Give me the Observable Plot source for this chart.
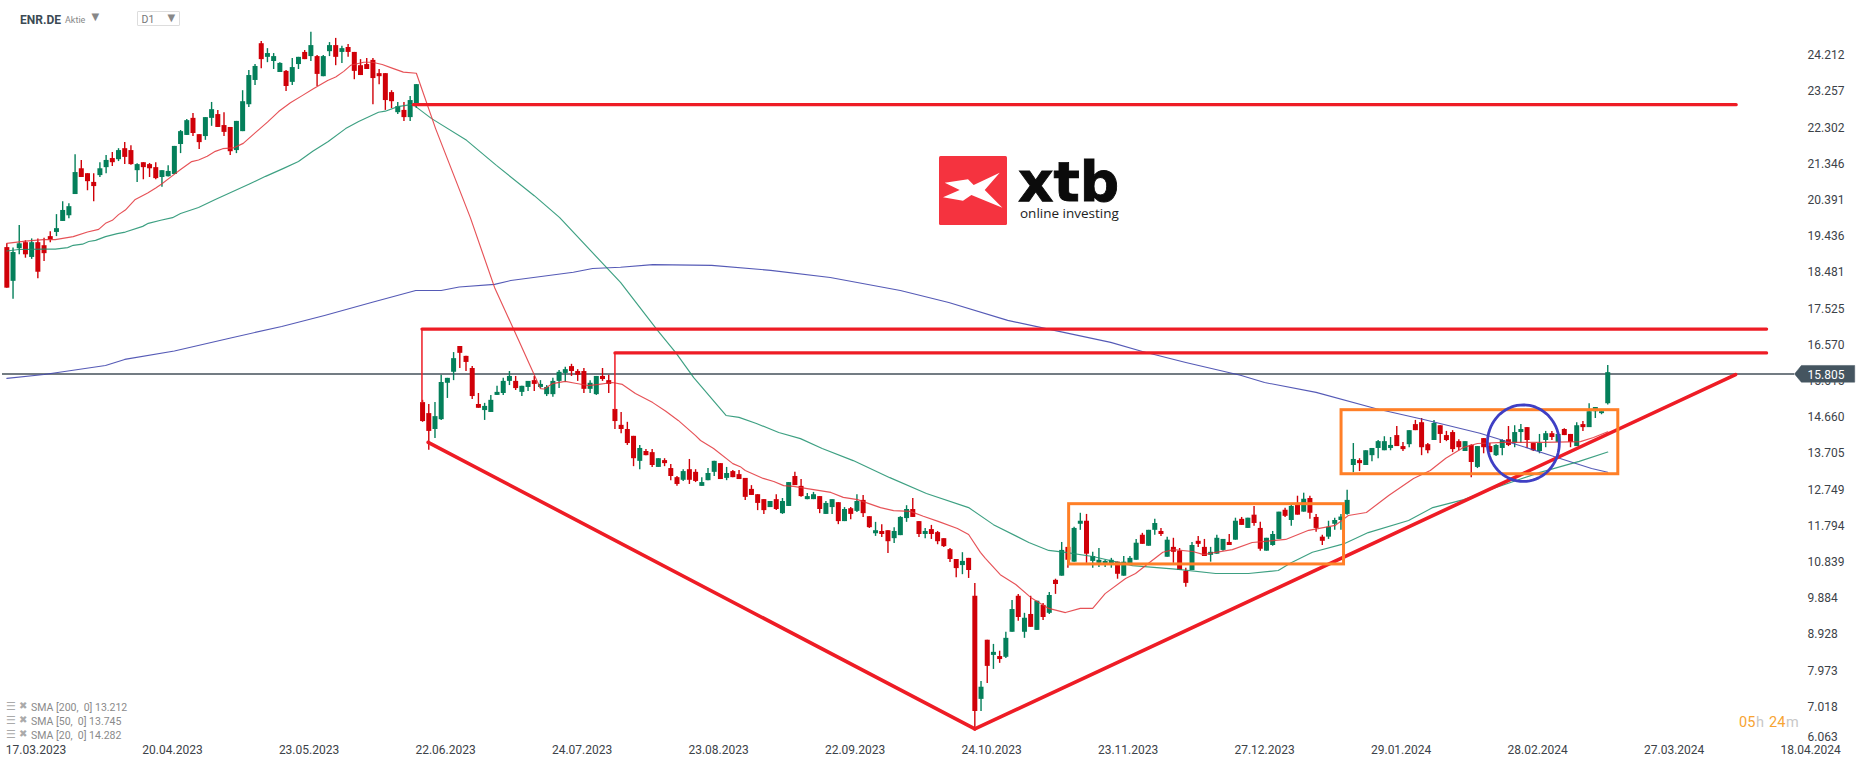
<!DOCTYPE html>
<html><head><meta charset="utf-8">
<script src="https://cdn.jsdelivr.net/npm/d3@7"></script>
<script src="https://cdn.jsdelivr.net/npm/@observablehq/plot@0.6"></script>
<style>
html,body{margin:0;padding:0;background:#fff;overflow:hidden}
#wrap{position:relative;width:1866px;height:767px;font-family:Roboto,sans-serif}
#wrap svg{display:block}
.o{position:absolute;white-space:pre;transform:translateY(-50%);line-height:1}
</style></head><body><div id="wrap"></div>
<script>
// daily bars: [open, high, low, close]
const ohlc=[
[19.14,19.24,18.07,18.07],[18.25,19.13,17.78,19.01],[19.11,19.72,18.95,19.24],[19.27,19.32,18.86,18.95],[18.88,19.37,18.83,19.27],[19.27,19.37,18.32,18.49],[19.19,19.39,18.77,18.98],[19.43,19.56,19.27,19.34],[19.54,20.01,19.43,19.64],[19.83,20.35,19.83,20.12],
[19.98,20.30,19.90,20.22],[20.54,21.59,20.54,21.12],[21.22,21.44,20.99,20.99],[21.09,21.09,20.64,20.88],[20.86,21.09,20.35,20.75],[21.04,21.38,20.99,21.22],[21.25,21.57,21.09,21.44],[21.49,21.65,21.28,21.38],[21.46,21.75,21.41,21.70],[21.75,21.91,21.33,21.52],
[21.70,21.83,21.31,21.33],[21.17,21.35,20.86,21.33],[21.38,21.38,20.93,21.25],[21.33,21.36,20.99,21.22],[21.25,21.38,20.93,20.96],[20.99,21.17,20.73,21.17],[21.01,21.30,21.00,21.15],[21.07,21.81,21.07,21.81],[21.86,22.23,21.62,22.20],[22.10,22.52,22.10,22.49],
[22.55,22.68,22.07,22.15],[22.12,22.12,21.73,21.91],[22.07,22.57,21.97,22.57],[22.55,22.97,22.34,22.78],[22.65,22.76,22.31,22.31],[22.36,22.70,22.07,22.18],[22.31,22.31,21.57,21.67],[21.70,22.47,21.62,22.47],[22.20,23.28,22.20,22.99],[22.91,23.81,22.84,23.68],
[23.55,23.97,23.42,23.92],[24.52,24.58,23.86,24.10],[24.16,24.39,24.02,24.26],[24.05,24.26,23.84,24.18],[23.76,24.02,23.76,24.00],[23.79,23.81,23.26,23.39],[23.50,24.13,23.42,23.89],[23.97,24.16,23.84,24.16],[24.29,24.34,24.10,24.10],[24.18,24.82,24.05,24.47],
[24.18,24.21,23.39,23.71],[23.65,24.21,23.65,24.18],[24.31,24.55,24.18,24.47],[24.47,24.66,23.94,24.16],[24.29,24.45,24.00,24.39],[24.42,24.50,24.16,24.29],[24.29,24.29,23.57,23.79],[23.94,24.10,23.68,23.68],[23.97,24.13,23.84,23.84],[24.08,24.13,22.91,23.60],
[23.73,23.84,23.44,23.65],[23.73,23.73,22.76,23.02],[23.23,23.28,22.81,22.99],[22.70,22.97,22.65,22.86],[22.76,22.97,22.47,22.57],[22.57,23.13,22.47,23.02],[22.89,23.44,22.81,23.44],[15.05,15.11,14.53,14.55],[14.76,15.00,13.79,14.29],[14.34,15.05,14.10,14.68],
[14.60,15.77,14.58,15.58],[15.56,15.69,15.16,15.69],[15.85,16.37,15.63,16.21],[16.53,16.53,15.95,16.35],[16.27,16.27,15.87,16.11],[15.95,16.00,15.13,15.21],[15.00,15.29,14.90,14.90],[14.84,15.03,14.58,14.95],[14.79,15.24,14.79,15.11],[15.24,15.48,15.24,15.32],
[15.29,15.69,15.24,15.61],[15.61,15.87,15.50,15.74],[15.61,15.74,15.37,15.42],[15.32,15.48,15.21,15.48],[15.45,15.61,15.34,15.61],[15.63,15.74,15.34,15.53],[15.45,15.63,15.42,15.53],[15.26,15.50,15.21,15.45],[15.26,15.69,15.19,15.61],[15.61,15.90,15.42,15.85],
[15.82,15.98,15.58,15.92],[16.00,16.06,15.74,15.87],[15.87,15.92,15.61,15.77],[15.87,15.95,15.29,15.40],[15.40,15.63,15.29,15.56],[15.26,15.74,15.24,15.74],[15.74,15.95,15.61,15.66],[15.63,15.77,15.29,15.53],[14.87,14.87,14.34,14.55],[14.45,14.79,14.23,14.34],
[14.34,14.53,13.92,13.97],[14.16,14.16,13.36,13.57],[13.50,13.92,13.28,13.84],[13.76,13.81,13.65,13.65],[13.73,13.81,13.34,13.39],[13.34,13.57,13.34,13.57],[13.52,13.57,13.36,13.44],[13.31,13.42,12.99,13.10],[13.07,13.10,12.84,12.89],[13.00,13.28,12.97,13.23],
[13.28,13.55,12.89,13.00],[13.21,13.28,12.94,12.97],[12.84,13.07,12.84,12.94],[12.99,13.31,12.99,13.18],[13.21,13.50,13.10,13.50],[13.44,13.44,13.02,13.02],[13.05,13.34,12.99,13.18],[13.23,13.26,13.07,13.07],[13.15,13.26,13.02,13.02],[13.05,13.05,12.47,12.55],
[12.76,12.86,12.60,12.60],[12.62,12.62,12.20,12.39],[12.49,12.49,12.10,12.20],[12.28,12.44,12.28,12.44],[12.49,12.62,12.20,12.23],[12.12,12.52,12.10,12.44],[12.31,12.94,12.31,12.94],[13.10,13.21,12.86,12.86],[12.84,13.02,12.55,12.57],[12.49,12.65,12.49,12.57],
[12.49,12.68,12.49,12.62],[12.57,12.57,12.12,12.23],[12.10,12.44,12.10,12.39],[12.28,12.49,12.10,12.49],[12.41,12.41,11.83,11.91],[11.91,12.28,11.91,12.23],[12.25,12.28,11.96,12.10],[12.18,12.62,12.15,12.44],[12.47,12.60,12.02,12.12],[12.04,12.04,11.73,11.75],
[11.59,11.89,11.52,11.67],[11.65,11.83,11.49,11.57],[11.67,11.67,11.07,11.38],[11.46,11.75,11.33,11.65],[11.54,12.04,11.54,12.02],[11.99,12.33,11.89,12.23],[12.23,12.52,12.02,12.02],[11.91,11.91,11.49,11.57],[11.57,11.73,11.46,11.65],[11.70,11.81,11.44,11.57],
[11.62,11.65,11.30,11.38],[11.46,11.46,11.23,11.25],[11.17,11.20,10.83,10.91],[10.91,10.91,10.43,10.67],[10.75,11.09,10.51,10.86],[10.94,10.94,10.41,10.62],[9.94,10.28,6.45,6.90],[7.22,7.69,6.90,7.54],[8.78,8.78,7.64,8.09],[8.38,8.67,8.01,8.46],
[8.35,8.49,8.17,8.27],[8.33,8.99,8.30,8.83],[8.99,9.83,8.99,9.59],[9.94,9.99,9.28,9.38],[8.99,9.49,8.83,9.36],[9.46,9.94,9.12,9.12],[9.04,9.81,9.04,9.81],[9.70,9.75,9.30,9.38],[9.49,10.04,9.46,9.96],[10.36,10.39,9.99,10.25],
[10.47,11.36,10.47,11.15],[11.23,11.23,10.68,10.89],[10.84,11.76,10.84,11.73],[11.84,12.13,11.68,11.92],[11.92,12.10,10.81,11.05],[10.86,11.10,10.68,10.99],[10.81,11.20,10.70,10.89],[10.78,10.89,10.70,10.86],[10.78,10.94,10.68,10.89],[10.84,10.84,10.39,10.52],
[10.47,10.99,10.47,10.84],[10.78,10.99,10.78,10.94],[10.89,11.44,10.89,11.34],[11.55,11.60,11.31,11.31],[11.26,11.68,11.26,11.68],[11.68,11.97,11.55,11.86],[11.65,11.73,11.52,11.57],[10.97,11.50,10.97,11.42],[11.23,11.47,10.81,11.10],[11.13,11.20,10.62,10.62],
[10.60,10.68,10.18,10.28],[10.62,11.36,10.62,11.28],[11.39,11.52,11.23,11.31],[11.23,11.44,10.99,10.99],[11.02,11.23,10.84,11.10],[11.05,11.55,11.05,11.47],[11.15,11.44,11.13,11.44],[11.36,11.57,11.28,11.28],[11.42,12.00,11.42,11.92],[11.97,12.02,11.81,11.81],
[11.73,12.00,11.73,12.00],[12.08,12.31,11.79,11.86],[11.73,11.89,11.13,11.18],[11.13,11.47,11.13,11.47],[11.28,11.65,11.26,11.57],[11.44,12.16,11.44,12.16],[12.21,12.26,12.02,12.05],[11.94,12.39,11.79,12.31],[12.39,12.58,12.08,12.08],[12.16,12.66,12.16,12.50],
[12.52,12.58,11.97,12.13],[12.02,12.10,11.63,11.73],[11.50,11.55,11.28,11.39],[11.50,11.92,11.44,11.76],[11.84,12.00,11.68,11.94],[11.94,12.10,11.68,12.03],[12.10,12.74,12.08,12.47],[13.39,13.97,13.20,13.55],[13.52,13.57,13.23,13.44],[13.39,13.78,13.39,13.78],
[13.65,13.84,13.49,13.84],[13.84,14.05,13.57,14.02],[13.78,14.15,13.78,14.02],[13.84,14.13,13.78,13.92],[14.18,14.42,13.89,13.89],[13.89,14.00,13.76,13.81],[13.94,14.31,13.86,14.31],[14.47,14.58,14.31,14.31],[14.52,14.63,13.65,13.86],[13.94,13.97,13.70,13.78],
[14.05,14.58,14.05,14.50],[14.44,14.44,13.97,14.21],[14.18,14.29,14.02,14.05],[14.26,14.31,13.73,13.81],[14.02,14.07,13.78,13.86],[13.76,14.02,13.76,14.02],[13.92,13.94,13.07,13.47],[13.34,13.89,13.31,13.89],[14.10,14.10,13.70,13.86],[13.89,13.97,13.73,13.73],
[13.65,13.94,13.63,13.92],[13.84,14.07,13.65,14.05],[14.07,14.42,13.89,13.92],[13.97,14.44,13.86,14.26],[14.26,14.47,13.97,14.34],[14.39,14.39,13.84,14.05],[13.97,13.97,13.76,13.78],[13.76,14.21,13.70,13.97],[14.05,14.29,13.86,14.23],[14.23,14.29,14.05,14.13],
[14.00,14.21,14.00,14.21],[14.34,14.36,14.18,14.18],[14.21,14.21,13.86,14.00],[13.89,14.52,13.89,14.44],[14.47,14.55,14.29,14.39],[14.39,15.02,14.39,14.81],[14.81,14.92,14.63,14.92],[14.76,14.81,14.73,14.81],[15.02,16.03,14.99,15.84]
];
const sma20=[[0,19.25],[3,19.31],[5.9,19.35],[7.8,19.35],[10.7,19.43],[13,19.55],[14.8,19.62],[15.9,19.78],[17,19.86],[18,20.01],[19.1,20.13],[20.7,20.41],[22.7,20.58],[24,20.71],[24.9,20.81],[26.4,21.0],[28,21.2],[29.8,21.41],[30.9,21.45],[32.3,21.55],[33.6,21.68],[34.8,21.75],[36.5,21.77],[38.1,21.89],[40.1,22.18],[42,22.45],[43.8,22.73],[45.7,22.96],[47.6,23.15],[49.4,23.33],[51.7,23.55],[53,23.64],[54.3,23.79],[55.4,23.95],[57.5,24.03],[58.9,24.03],[60.5,23.97],[62.2,23.87],[63.9,23.77],[66,23.74],[69.1,22.28],[74.7,19.93],[78.6,18.09],[82.5,16.69],[84.1,16.11],[86,15.42],[86.6,15.41],[87.9,15.55],[90,15.61],[91.6,15.56],[93.7,15.5],[95.4,15.53],[97.6,15.58],[99.2,15.53],[101.3,15.29],[104.1,15.05],[106.2,14.82],[108.2,14.58],[111,14.18],[111.8,14.05],[113.9,13.84],[117,13.44],[118.2,13.36],[119,13.26],[121.9,13.05],[123.6,12.97],[125.2,12.86],[126.8,12.84],[129,12.78],[132.8,12.68],[134.8,12.55],[137.1,12.49],[140.8,12.28],[142.9,12.2],[145.6,12.18],[147.7,12.05],[150.2,11.91],[153.2,11.73],[155,11.57],[156.9,11.1],[157.7,10.94],[160.1,10.51],[162.6,10.25],[165,9.91],[167.9,9.62],[170.6,9.51],[173,9.62],[175,9.62],[177,10.01],[180.3,10.41],[181.9,10.54],[184,10.81],[186.3,11.1],[188,11.17],[191.1,11.12],[192.9,11.04],[194.8,11.1],[197.5,11.17],[200.7,11.36],[202.8,11.39],[206.1,11.44],[209.8,11.68],[214.1,11.81],[216.2,12.07],[219.1,12.15],[222.7,12.6],[226.7,13.05],[229.4,13.26],[231.9,13.58],[234.8,13.87],[237,13.97],[241.2,14.0],[247.7,14.0],[253.6,14.02],[255.7,14.13],[258,14.28]];
const sma50=[[0,19.05],[1.9,19.09],[5.9,19.1],[7.8,19.1],[9.8,19.14],[10.7,19.2],[12.2,19.23],[13.2,19.3],[14.3,19.33],[15.9,19.43],[17.8,19.51],[19.1,19.55],[21.9,19.7],[22.8,19.78],[24.8,19.86],[26.7,19.93],[28,20.04],[30.9,20.2],[33.6,20.41],[39,20.81],[41.7,21.02],[44.6,21.23],[47,21.41],[49.3,21.68],[51.8,21.94],[54.6,22.28],[56.7,22.47],[59.9,22.71],[61,22.74],[63,22.86],[65.4,22.92],[65.9,22.86],[68.4,22.55],[74.1,21.97],[78.9,21.31],[85,20.51],[89.1,19.93],[98.9,18.22],[104.9,16.95],[107.8,16.37],[110.7,15.71],[115.9,14.71],[118,14.66],[120.8,14.5],[124.4,14.26],[127.9,14.1],[131.4,13.84],[136.4,13.52],[142.3,13.07],[148.2,12.65],[155,12.28],[159,11.83],[164.7,11.36],[167.9,11.15],[170.6,11.1],[175,10.99],[181.4,10.75],[188.8,10.65],[194.8,10.54],[200.1,10.54],[204.9,10.62],[206.9,10.82],[210.4,11.1],[215.6,11.33],[219.4,11.62],[225.9,11.94],[229.8,12.28],[234.8,12.49],[240,12.81],[247.1,13.21],[253.4,13.5],[258,13.745]];
const sma200=[[0,15.69],[6,15.79],[15.9,16.03],[19,16.19],[27,16.41],[35.9,16.75],[44.3,17.06],[51.2,17.35],[58.9,17.7],[65.9,18.01],[70,18.01],[72.9,18.1],[78.6,18.17],[81.2,18.27],[91.3,18.49],[94.4,18.59],[98.9,18.62],[104.1,18.69],[113.6,18.67],[123.1,18.54],[132.7,18.35],[144,18.01],[151.8,17.69],[161.3,17.22],[169,16.95],[177.9,16.64],[183,16.4],[190,16.11],[198.8,15.77],[202.7,15.58],[211,15.32],[220.7,14.89],[228.5,14.6],[237.4,14.24],[243.8,13.92],[250.2,13.58],[255.4,13.31],[258,13.212]];
const dateLabels=["17.03.2023","20.04.2023","23.05.2023","22.06.2023","24.07.2023","23.08.2023","22.09.2023","24.10.2023","23.11.2023","27.12.2023","29.01.2024","28.02.2024","27.03.2024","18.04.2024"];
const dateTicks=[4.7,26.7,48.7,70.7,92.7,114.7,136.7,158.7,180.7,202.7,224.7,246.7,268.7,290.7];
const priceTicks=[24.212,23.257,22.302,21.346,20.391,19.436,18.481,17.525,16.570,15.615,14.660,13.705,12.749,11.794,10.839,9.884,8.928,7.973,7.018];
const lowestTick=6.063;
const lastPrice=15.805;
// drawn annotations, as [bar, price]
const resistance1=[[65.5,22.91],[278.7,22.91]];
const resistance2=[[66.9,16.99],[283.6,16.99]];
const resistance3=[[98,16.36],[283.6,16.36]];
const drop2=[[66.9,16.99],[66.9,15.05]];
const drop3=[[98,16.36],[98,14.87]];
const trendDown=[[67.9,14.0],[156,6.44]];
const trendUp=[[156,6.44],[278.6,15.79]];
const boxes=[{x1:171.2,x2:215.5,y1:10.78,y2:12.37},{x1:215.1,x2:259.7,y1:13.16,y2:14.85}];
const circle={bar:244.4,price:13.98,rBar:5.8,rPrice:1.01};
const tagBox=[[288.1,15.805],[289.2,16.03],[297.8,16.03],[297.8,15.59],[289.2,15.59]];

const candles=ohlc.map((r,i)=>({i,o:r[0],h:r[1],l:r[2],c:r[3],up:r[3]>=r[0]}));
const GREEN="#047f5a",RED="#d00008",LINE="#ee1c25",ORANGE="#ff7f27",INK="#3c4248";
const ring=d3.range(0,361,5).map(a=>[circle.bar+circle.rBar*Math.cos(a*Math.PI/180),circle.price+circle.rPrice*Math.sin(a*Math.PI/180)]);
const up=candles.filter(d=>d.up),down=candles.filter(d=>!d.up);
const chart=Plot.plot({
  width:1866,height:767,margin:0,
  style:{fontFamily:"Roboto, sans-serif",background:"#fff",overflow:"visible"},
  x:{domain:[-1.02,299.7],range:[0,1866],axis:null},
  y:{domain:[5.422,25.66],range:[767,0],axis:null},
  marks:[
    Plot.ruleY([lastPrice],{x1:-0.7,x2:288.1,stroke:"#44505a",strokeWidth:1.3}),
    Plot.ruleX(up,{x:"i",y1:"l",y2:"h",stroke:GREEN,strokeWidth:1.4}),
    Plot.ruleX(down,{x:"i",y1:"l",y2:"h",stroke:RED,strokeWidth:1.4}),
    Plot.ruleX(up,{x:"i",y1:"o",y2:"c",stroke:GREEN,strokeWidth:5}),
    Plot.ruleX(down,{x:"i",y1:"o",y2:"c",stroke:RED,strokeWidth:5}),
    Plot.line(sma200,{stroke:"#4248ae",strokeWidth:1.1,strokeOpacity:.9}),
    Plot.line(sma50,{stroke:"#1b8f6c",strokeWidth:1.15,strokeOpacity:.85}),
    Plot.line(sma20,{stroke:"#e2343a",strokeWidth:1.15,strokeOpacity:.85}),
    Plot.line(resistance1,{stroke:LINE,strokeWidth:3.2}),
    Plot.line(resistance2,{stroke:LINE,strokeWidth:3.2}),
    Plot.line(resistance3,{stroke:LINE,strokeWidth:3.2}),
    Plot.line(drop2,{stroke:LINE,strokeWidth:1.5}),
    Plot.line(drop3,{stroke:LINE,strokeWidth:1.5}),
    Plot.line(trendDown,{stroke:LINE,strokeWidth:3.6}),
    Plot.line(trendUp,{stroke:LINE,strokeWidth:3.6}),
    Plot.rect(boxes,{x1:"x1",x2:"x2",y1:"y1",y2:"y2",fill:"none",stroke:ORANGE,strokeWidth:3}),
    Plot.line(ring,{stroke:"#3f3fc4",strokeWidth:2.8}),
    Plot.axisX(dateTicks,{tickSize:0,tickPadding:-22,label:null,fontSize:12,fill:INK,tickFormat:d=>dateLabels[dateTicks.indexOf(d)]}),
    Plot.axisY(priceTicks,{anchor:"right",tickSize:0,tickPadding:-59,label:null,fontSize:12,fill:INK,tickFormat:d=>d.toFixed(3)}),
    Plot.text([lowestTick],{x:290.2,y:d=>d,text:d=>d.toFixed(3),textAnchor:"start",fontSize:12,fill:INK,dy:-6}),
    Plot.line(tagBox.concat([tagBox[0]]),{fill:"#455560",stroke:"#455560",strokeWidth:0.5}),
    Plot.text([lastPrice],{x:290.2,y:d=>d,text:d=>d.toFixed(3),textAnchor:"start",fontSize:12,fill:"#fff",dy:1.5})
  ]
});
const wrap=document.getElementById("wrap");
wrap.appendChild(chart);
function put(t,x,y,css){const s=document.createElement("span");s.className="o";s.textContent=t;s.style.cssText=`left:${x}px;top:${y}px;${css}`;wrap.appendChild(s);}
put("ENR.DE",20,19.5,"font-size:12px;font-weight:700;color:#3c4a54");
put("Aktie",65,19.5,"font-size:9px;color:#888");
put("▼",91.5,17,"font-size:10px;color:#888;font-family:'DejaVu Sans'");
put("D1",141.5,20,"font-size:10.5px;color:#777");
put("▼",167.5,17.5,"font-size:10px;color:#888;font-family:'DejaVu Sans'");
const box=document.createElement("div");
box.style.cssText="position:absolute;left:136.5px;top:10.7px;width:41.5px;height:13.5px;border:1px solid #ddd;border-radius:1px";
wrap.appendChild(box);
const legendRows=[["SMA [200,  0] 13.212",707.5],["SMA [50,  0] 13.745",721.5],["SMA [20,  0] 14.282",735.5]];
legendRows.forEach(([t,y])=>{
  put("☰",6,y-1.5,"font-size:11px;color:#aaa;font-family:'DejaVu Sans'");
  put("✖",19,y-1.5,"font-size:10px;color:#aaa;font-family:'DejaVu Sans'");
  put(t,31,y,"font-size:10.5px;color:#8a8a8a");
});
put("05",1739,722.7,"font-size:14.5px;color:#f7a432");
put("h",1756,722.7,"font-size:14.5px;color:#c8c8c8");
put("24",1769,722.7,"font-size:14.5px;color:#f7a432");
put("m",1786,722.7,"font-size:14.5px;color:#c8c8c8");
// logo
const lg=document.createElement("div");
lg.style.cssText="position:absolute;left:939.3px;top:156px;width:68px;height:69px";
lg.innerHTML='<svg width="68" height="69" viewBox="939.3 156 68 69"><rect x="939.3" y="156" width="68" height="69" rx="1.5" fill="#f5333f"/><polygon fill="#fff" points="945,182.7 968.3,179.3 974,185 1000,172.7 985,190 1002.7,207.7 971.7,195 963.3,200.7 943.3,197.3 960,190"/></svg>';
wrap.appendChild(lg);
put("xtb",1018,183,"font-family:'DejaVu Sans';font-weight:700;font-size:55px;line-height:.72;color:#0b0b0b;-webkit-text-stroke:.9px #0b0b0b");
put("online investing",1020,214,"font-family:'Open Sans';font-weight:400;font-size:13.5px;color:#222");
</script></body></html>
